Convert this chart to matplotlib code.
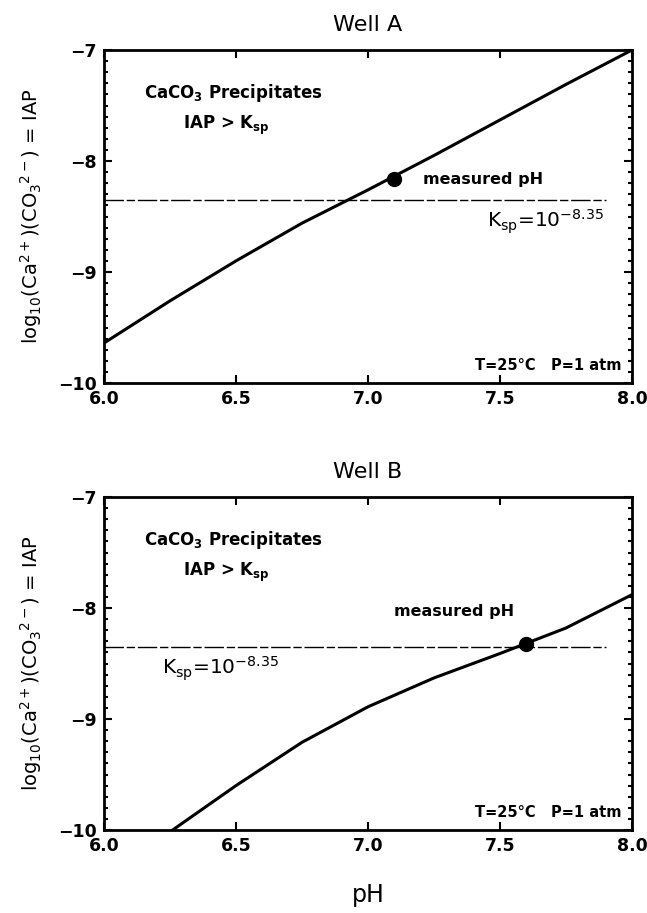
import numpy as np
import matplotlib
matplotlib.use("Agg")
import matplotlib.pyplot as plt

# values
ph_a = [6.0, 6.25, 6.5, 6.75, 7.0, 7.25, 7.5, 7.75, 8.0]
iap_a = [-9.64, -9.26, -8.90, -8.56, -8.26, -7.95, -7.63, -7.31, -7.0]
meas_a = (7.10, -8.16)

ph_b = [6.26, 6.5, 6.75, 7.0, 7.25, 7.5, 7.75, 8.0]
iap_b = [-10.0, -9.60, -9.21, -8.89, -8.63, -8.41, -8.18, -7.88]
meas_b = (7.60, -8.32)

log_ksp = -8.35
ksp_end = 7.9
wells = ["Well A", "Well B"]
xticks = [6.0, 6.5, 7.0, 7.5, 8.0]
xlabels = ['6.0', '6.5', '7.0', '7.5', '8.0']
yticks = [-10, -9, -8, -7]
ylabels = ['\u221210', '\u22129', '\u22128', '\u22127']

plt.rcParams['font.family'] = 'DejaVu Sans'
plt.rcParams['mathtext.default'] = 'regular'

fig = plt.figure(figsize=(6.47, 9.13), dpi=100)
W, H = 647, 913
ax_a = fig.add_axes([104 / W, 1 - 383 / H, 528 / W, 333 / H])
ax_b = fig.add_axes([104 / W, 1 - 830 / H, 528 / W, 333 / H])

data = [(ax_a, ph_a, iap_a, meas_a), (ax_b, ph_b, iap_b, meas_b)]
for i, (ax, x, y, m) in enumerate(data):
    ax.plot(x, y, color='black', lw=2.2)
    ax.plot([6.0, ksp_end], [log_ksp, log_ksp], color='black', lw=1,
            dashes=(14, 2, 6, 2))
    ax.plot(*m, 'o', color='black', ms=10)
    ax.set_xlim(6.0, 8.0)
    ax.set_ylim(-10, -7)
    ax.set_xticks(xticks, xlabels, fontweight='bold')
    ax.set_yticks(yticks, ylabels, fontweight='bold')
    ax.set_yticks(np.arange(-10, -6.95, 0.1), minor=True)
    ax.tick_params(direction='in', which='both', top=True, right=True,
                   labelsize=12.5, width=1.5)
    ax.tick_params(which='minor', length=3)
    ax.tick_params(which='major', length=6, pad=5)
    for s in ax.spines.values():
        s.set_linewidth(2)
    ax.set_title(wells[i], fontsize=16, pad=14)
    ax.set_ylabel('log$_{10}$(Ca$^{2+}$)(CO$_3$$^{2-}$) = IAP', fontsize=14,
                  labelpad=10)
    ax.text(6.15, -7.39, 'CaCO$_3$ Precipitates', fontsize=12, fontweight='bold',
            va='center')
    ax.text(6.3, -7.68, 'IAP > K$_{sp}$', fontsize=12, fontweight='bold',
            va='center')
    ax.text(7.96, -9.84, 'T=25\u00b0C   P=1 atm', fontsize=10.5, fontweight='bold',
            ha='right', va='center')

ax_a.text(7.21, -8.17, 'measured pH', fontsize=11.5, fontweight='bold',
          va='center')
ax_a.text(7.45, -8.55, 'K$_{sp}$=10$^{-8.35}$', fontsize=14.5, va='center')
ax_b.text(7.1, -8.03, 'measured pH', fontsize=11.5, fontweight='bold',
          va='center')
ax_b.text(6.22, -8.55, 'K$_{sp}$=10$^{-8.35}$', fontsize=14.5, va='center')

ax_b.set_xlabel('pH', fontsize=17, labelpad=20)

fig.savefig('out.png', dpi=100, facecolor='white')
